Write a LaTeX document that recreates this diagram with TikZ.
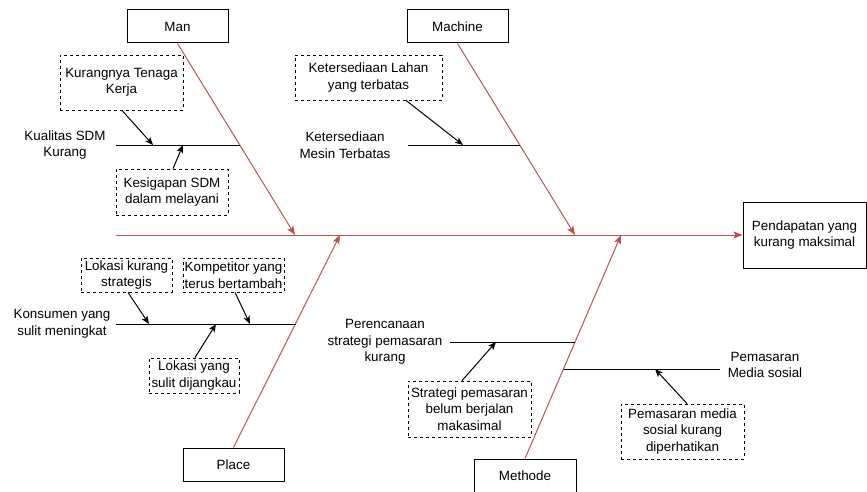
\documentclass[tikz,border=0pt]{standalone}
\usepackage{fontspec}
\setmainfont{Liberation Sans}
\usetikzlibrary{arrows.meta}
\definecolor{bonered}{HTML}{B85450}
\begin{document}
\begin{tikzpicture}[x=1pt,y=-1pt,
  txt/.style={font=\fontsize{13.4}{16.5}\selectfont, align=center, inner sep=0pt},
  catbox/.style={txt, draw=black, line width=1pt, fill=white},
  causebox/.style={txt, draw=black, line width=0.8pt, dash pattern=on 3pt off 3pt},
  bone/.style={draw=bonered, line width=1pt, -{Stealth[length=9pt,width=7pt,inset=2pt]}},
  branch/.style={draw=black, line width=1pt},
  causearrow/.style={draw=black, line width=1pt, -{Stealth[length=8pt,width=6.5pt,inset=2pt]}}
]
\useasboundingbox (0,0) rectangle (867,492);

% category boxes and effect
\node[catbox, minimum width=101pt, minimum height=33pt] (man) at (177.5,26.5) {Man};
\node[catbox, minimum width=101pt, minimum height=33pt] (machine) at (457.5,26.5) {Machine};
\node[catbox, minimum width=101pt, minimum height=33pt] (place) at (233.5,464.5) {Place};
\node[catbox, minimum width=102pt, minimum height=33pt] (methode) at (525,475.5) {Methode};
\node[catbox, minimum width=123pt, minimum height=66pt] (effect) at (804.5,235) {Pendapatan yang\\kurang maksimal};

% spine
\coordinate (tail) at (116,235);
\draw[bone] (tail) -- (effect.west);

% bone end points on the spine
\coordinate (manend) at (295,235);
\coordinate (machend) at (575,235);
\coordinate (placeend) at (340,235);
\coordinate (methend) at (621,235);

% main bones
\draw[bone] (man.south) -- (manend);
\draw[bone] (machine.south) -- (machend);
\draw[bone] (place.north) -- (placeend);
\draw[bone] (methode.north) -- (methend);

% branch lines
\coordinate (b1s) at (116,145);   \coordinate (b1e) at (240,145);
\coordinate (b2s) at (408,145);   \coordinate (b2e) at (520,145);
\coordinate (b3s) at (116,324);   \coordinate (b3e) at (295.5,324);
\coordinate (b4s) at (450,342);   \coordinate (b4e) at (575,342);
\coordinate (b5s) at (563.6,369); \coordinate (b5e) at (720,369);
\draw[branch] (b1s) -- (b1e);
\draw[branch] (b2s) -- (b2e);
\draw[branch] (b3s) -- (b3e);
\draw[branch] (b4s) -- (b4e);
\draw[branch] (b5s) -- (b5e);

% branch labels
\node[txt] (l1) at (65,145) {Kualitas SDM\\Kurang};
\node[txt] (l2) at (345,145) {Ketersediaan\\Mesin Terbatas};
\node[txt] (l3) at (62,324) {Konsumen yang\\sulit meningkat};
\node[txt] (l4) at (385,342) {Perencanaan\\strategi pemasaran\\kurang};
\node[txt] (l5) at (765,365) {Pemasaran\\Media sosial};

% cause boxes
\node[causebox, minimum width=123pt, minimum height=55pt] (c1) at (121.5,82.5) {Kurangnya Tenaga\\Kerja};
\node[causebox, minimum width=112pt, minimum height=46pt] (c2) at (172,192) {Kesigapan SDM\\dalam melayani};
\node[causebox, minimum width=147pt, minimum height=45pt] (c3) at (368.5,77.5) {Ketersediaan Lahan\\yang terbatas};
\node[causebox, minimum width=91pt, minimum height=34pt] (c4) at (126.5,275) {Lokasi kurang\\strategis};
\node[causebox, minimum width=101pt, minimum height=34pt] (c5) at (233.5,275) {Kompetitor yang\\terus bertambah};
\node[causebox, minimum width=90pt, minimum height=35pt] (c6) at (194,375.5) {Lokasi yang\\sulit dijangkau};
\node[causebox, minimum width=123pt, minimum height=56pt] (c7) at (469.5,409) {Strategi pemasaran\\belum berjalan\\makasimal};
\node[causebox, minimum width=123pt, minimum height=55pt] (c8) at (682.5,431.5) {Pemasaran media\\sosial kurang\\diperhatikan};

% cause arrow targets on the branches
\coordinate (t1) at (153,145);
\coordinate (t2) at (183,145);
\coordinate (t3) at (463,145);
\coordinate (t4) at (149,324);
\coordinate (t5) at (250,324);
\coordinate (t6) at (216,324);
\coordinate (t7) at (496,342);
\coordinate (t8) at (655,369);

\draw[causearrow] ([xshift=0.5pt]c1.south) -- (t1);
\draw[causearrow] ([xshift=1pt]c2.north) -- (t2);
\draw[causearrow] ([xshift=37.5pt]c3.south) -- (t3);
\draw[causearrow] ([xshift=1.5pt]c4.south) -- (t4);
\draw[causearrow] ([xshift=1.5pt]c5.south) -- (t5);
\draw[causearrow] ([xshift=1pt]c6.north) -- (t6);
\draw[causearrow] ([xshift=-7.5pt]c7.north) -- (t7);
\draw[causearrow] ([xshift=4.5pt]c8.north) -- (t8);
\end{tikzpicture}
\end{document}
